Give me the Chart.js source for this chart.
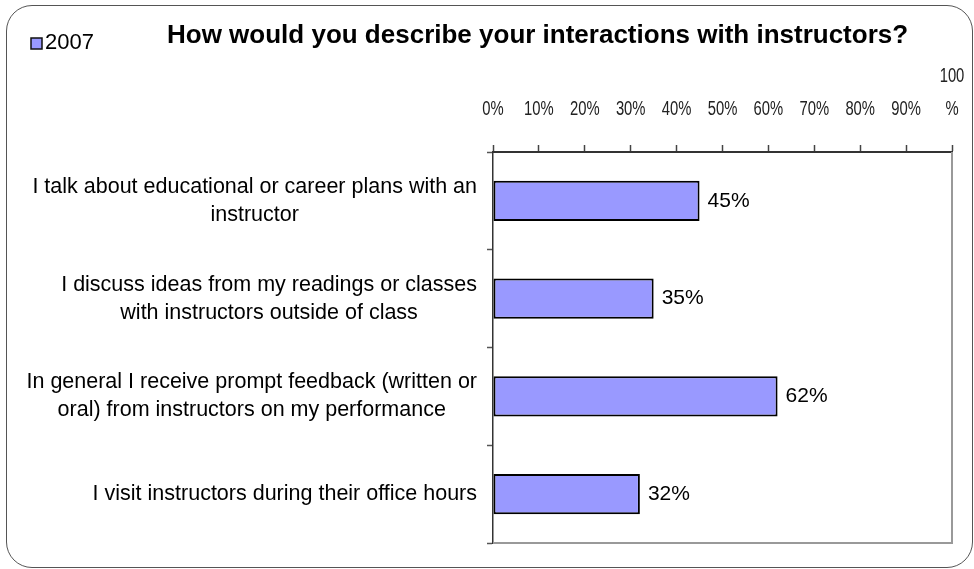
<!DOCTYPE html>
<html>
<head>
<meta charset="utf-8">
<script src="https://cdn.jsdelivr.net/npm/chart.js@4"></script>
<style>
    html, body { margin: 0; padding: 0; background: #fff; }
    #wrap { position: relative; width: 974px; height: 569px; overflow: hidden; }
    #frame {
        position: absolute; left: 6px; top: 5px; width: 967px; height: 563px;
        border: 1.5px solid #555; border-radius: 26px; box-sizing: border-box; pointer-events: none;
    }
</style>
</head>
<body>
<div id="wrap">
    <canvas id="surveyChart" width="974" height="569"></canvas>
    <div id="frame"></div>
</div>
<script>
const chartTitle = 'How would you describe your interactions with instructors?';
const seriesName = '2007';
const categories = [
    ['I talk about educational or career plans with an', 'instructor'],
    ['I discuss ideas from my readings or classes', 'with instructors outside of class'],
    ['In general I receive prompt feedback (written or', 'oral) from instructors on my performance'],
    ['I visit instructors during their office hours']
];
const values2007 = [45, 35, 62, 32];
const xTicks = [0, 10, 20, 30, 40, 50, 60, 70, 80, 90, 100];
const xTickLabels = ['0%', '10%', '20%', '30%', '40%', '50%', '60%', '70%', '80%', '90%', ['100', '%']];

const barFill = '#9999ff';
const textFont = '"Liberation Sans", Arial, sans-serif';

// title + legend, drawn on top like the original
const headerPlugin = {
    id: 'header',
    afterDraw(chart) {
        const ctx = chart.ctx;
        ctx.save();
        ctx.font = 'bold 26px ' + textFont;
        ctx.fillStyle = '#000';
        ctx.textAlign = 'left';
        ctx.textBaseline = 'middle';
        ctx.fillText(chartTitle, 167, 36);

        const ds = chart.data.datasets[0];
        ctx.fillStyle = ds.backgroundColor;
        ctx.fillRect(31, 38, 11, 11);
        ctx.strokeStyle = '#111';
        ctx.lineWidth = 1.5;
        ctx.strokeRect(31, 38, 11, 11);
        ctx.fillStyle = '#000';
        ctx.font = '22px ' + textFont;
        ctx.fillText(ds.label, 45, 43);
        ctx.restore();
    }
};

// x tick labels in a narrow, tall face like the original
const xLabels = {
    id: 'xLabels',
    afterDraw(chart) {
        const ctx = chart.ctx;
        const xScale = chart.scales.x;
        ctx.save();
        ctx.font = '20px ' + textFont;
        ctx.fillStyle = '#222';
        ctx.textAlign = 'center';
        ctx.textBaseline = 'middle';
        xScale.ticks.forEach((t, i) => {
            const lab = xTickLabels[i];
            const lines = Array.isArray(lab) ? lab : [lab];
            const px = xScale.getPixelForValue(t.value);
            lines.forEach((l, j) => {
                const y = 109 - (lines.length - 1 - j) * 33;
                ctx.save();
                ctx.translate(px, y);
                ctx.scale(0.74, 1);
                ctx.fillText(l, 0, 0);
                ctx.restore();
            });
        });
        ctx.restore();
    }
};

// category labels: block right-aligned to the axis, lines centred in the block
const categoryLabels = {
    id: 'categoryLabels',
    afterDraw(chart) {
        const ctx = chart.ctx;
        const yScale = chart.scales.y;
        ctx.save();
        ctx.font = '21.5px ' + textFont;
        ctx.fillStyle = '#000';
        ctx.textAlign = 'center';
        ctx.textBaseline = 'middle';
        const right = yScale.right - 16;
        const lineH = 28;
        categories.forEach((lines, i) => {
            const y = yScale.getPixelForValue(i);
            const w = Math.max(...lines.map(l => ctx.measureText(l).width));
            const cx = right - w / 2;
            lines.forEach((l, j) => {
                ctx.fillText(l, cx, y + (j - (lines.length - 1) / 2) * lineH);
            });
        });
        ctx.restore();
    }
};

// right and bottom edges of the plot area (grey)
const plotFrame = {
    id: 'plotFrame',
    beforeDatasetsDraw(chart) {
        const { ctx, chartArea: a } = chart;
        ctx.save();
        ctx.strokeStyle = '#999';
        ctx.lineWidth = 2;
        ctx.beginPath();
        ctx.moveTo(a.left, a.bottom);
        ctx.lineTo(a.right, a.bottom);
        ctx.lineTo(a.right, a.top);
        ctx.stroke();
        ctx.restore();
    }
};

const valueLabels = {
    id: 'valueLabels',
    afterDatasetsDraw(chart) {
        const ctx = chart.ctx;
        const meta = chart.getDatasetMeta(0);
        ctx.save();
        ctx.font = '21px ' + textFont;
        ctx.fillStyle = '#000';
        ctx.textAlign = 'left';
        ctx.textBaseline = 'middle';
        meta.data.forEach((bar, i) => {
            ctx.fillText(values2007[i] + '%', bar.x + 8, bar.y);
        });
        ctx.restore();
    }
};

const ctx = document.getElementById('surveyChart').getContext('2d');
new Chart(ctx, {
    type: 'bar',
    data: {
        labels: categories,
        datasets: [{
            label: seriesName,
            data: values2007,
            backgroundColor: barFill,
            borderColor: '#000',
            borderWidth: 2,
            borderSkipped: false,
            barPercentage: 0.41,
            categoryPercentage: 1
        }]
    },
    options: {
        indexAxis: 'y',
        responsive: false,
        animation: false,
        layout: { padding: { left: 0, top: 0, right: 22, bottom: 26 } },
        plugins: {
            legend: { display: false },
            title: { display: false },
            tooltip: { enabled: false }
        },
        scales: {
            x: {
                position: 'top',
                min: 0,
                max: 100,
                afterBuildTicks: s => { s.ticks = xTicks.map(v => ({ value: v })); },
                ticks: { display: false },
                grid: { drawOnChartArea: false, tickLength: 7, color: '#444', tickWidth: 1.5 },
                border: { color: '#333', width: 2 },
                afterFit: s => { s.height = 152; s.paddingLeft = 0; s.paddingRight = 0; }
            },
            y: {
                ticks: { display: false },
                grid: { drawOnChartArea: false, tickLength: 6, color: '#555', tickWidth: 1.5, offset: true },
                border: { color: '#333', width: 1.5 },
                afterFit: s => { s.width = 493; }
            }
        }
    },
    plugins: [plotFrame, valueLabels, categoryLabels, xLabels, headerPlugin]
});
</script>
</body>
</html>
